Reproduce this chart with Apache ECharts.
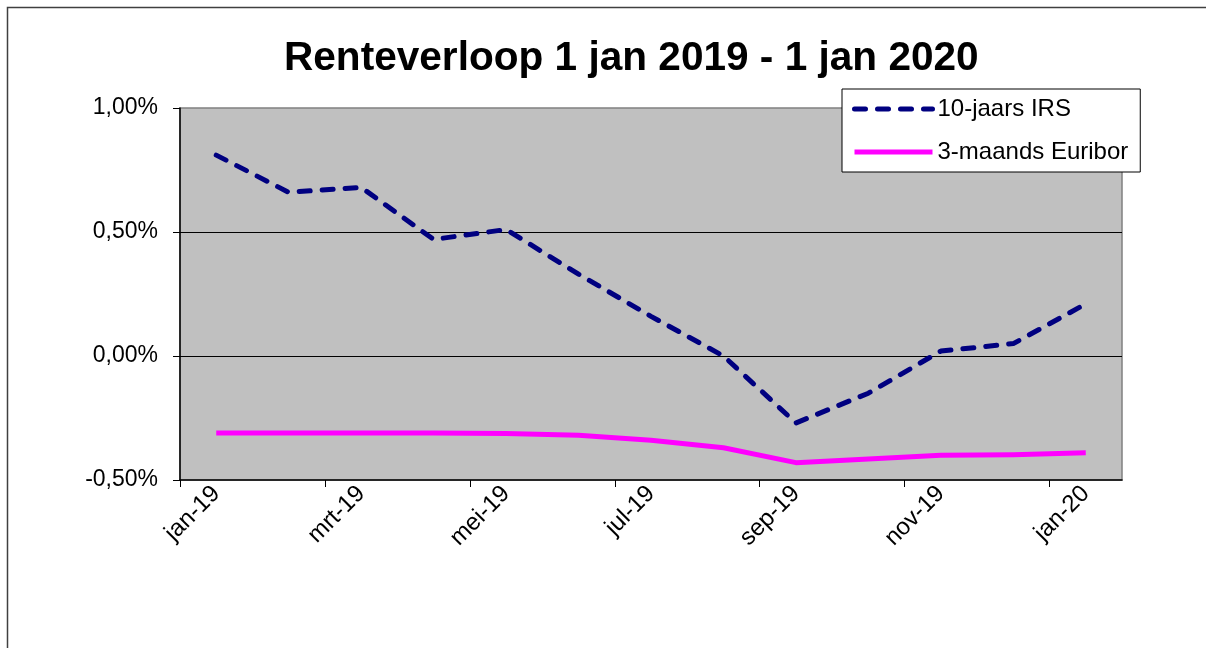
<!DOCTYPE html>
<html>
<head>
<meta charset="utf-8">
<script src="https://cdn.jsdelivr.net/npm/echarts@6/dist/echarts.min.js"></script>
<style>html,body{margin:0;padding:0;background:#fff;}#c{width:1206px;height:648px;}</style>
</head>
<body>
<div id="c"></div>
<script>
var titleText = 'Renteverloop 1 jan 2019 - 1 jan 2020';
var months = ['jan-19','feb-19','mrt-19','apr-19','mei-19','jun-19','jul-19','aug-19','sep-19','okt-19','nov-19','dec-19','jan-20'];
var irsName = '10-jaars IRS';
var euriborName = '3-maands Euribor';
var irs = [0.81, 0.66, 0.68, 0.47, 0.51, 0.33, 0.16, 0.00, -0.27, -0.15, 0.02, 0.05, 0.21];
var euribor = [-0.31, -0.31, -0.31, -0.31, -0.312, -0.32, -0.34, -0.37, -0.43, -0.415, -0.40, -0.398, -0.39];
var yMin = -0.5, yMax = 1.0, yStep = 0.5;

// month slots: data at slot centres, ticks at slot boundaries every 2 months
var labelIdx = [], tickPos = [];
for (var i = 0; i < months.length; i += 2) { labelIdx.push(i); tickPos.push(i - 0.5); }
function pairs(arr) { return arr.map(function (v, k) { return [k, v]; }); }

var FONT = 'Arial, "Liberation Sans", sans-serif';
var irsLine = {color: '#000080', width: 5, type: [11, 12], cap: 'round', join: 'round'};
var eurLine = {color: '#FF00FF', width: 5, join: 'round'};
var chart = echarts.init(document.getElementById('c'));
chart.setOption({
  animation: false,
  backgroundColor: '#ffffff',
  graphic: [{
    type: 'rect', silent: true, z: -10,
    shape: {x: 7.5, y: 7.5, width: 1400, height: 1000},
    style: {fill: 'none', stroke: '#404040', lineWidth: 1.5}
  }],
  title: {
    text: titleText,
    left: 284, top: 38,
    padding: 0,
    textStyle: {fontFamily: FONT, fontSize: 40.6, fontWeight: 'bold', color: '#000'}
  },
  legend: {
    orient: 'vertical',
    left: 842, top: 89,
    padding: [8, 12, 8, 10],
    backgroundColor: '#ffffff',
    borderColor: '#000000',
    borderWidth: 1,
    itemWidth: 78, itemHeight: 22, itemGap: 19,
    itemStyle: {opacity: 0},
    textStyle: {fontFamily: FONT, fontSize: 24, color: '#000'},
    data: [
      {name: irsName, lineStyle: irsLine},
      {name: euriborName, lineStyle: eurLine}
    ]
  },
  grid: {
    left: 180, top: 108, width: 942, height: 372,
    show: true, backgroundColor: '#C0C0C0', borderColor: '#808080', borderWidth: 1.5,
    containLabel: false
  },
  xAxis: {
    type: 'value',
    min: -0.5, max: months.length - 0.5,
    axisLine: {onZero: false, lineStyle: {color: '#000', width: 1.5}},
    axisTick: {show: true, customValues: tickPos, length: 7, lineStyle: {color: '#000'}},
    axisLabel: {
      customValues: labelIdx, rotate: 45, margin: 10, fontFamily: FONT, fontSize: 24, color: '#000',
      formatter: function (v) { return months[Math.round(v)] || ''; }
    },
    splitLine: {show: false}
  },
  yAxis: {
    type: 'value',
    min: yMin, max: yMax, interval: yStep,
    axisLine: {show: true, onZero: false, lineStyle: {color: '#000', width: 1.5}},
    axisTick: {show: true, length: 7, lineStyle: {color: '#000'}},
    axisLabel: {
      margin: 22, fontFamily: FONT, fontSize: 23, color: '#000',
      formatter: function (v) { return v.toFixed(2).replace('.', ',') + '%'; }
    },
    splitLine: {show: true, showMinLine: false, showMaxLine: false, lineStyle: {color: '#000', width: 1}}
  },
  series: [{
    name: irsName,
    type: 'line',
    data: pairs(irs),
    symbol: 'none',
    color: '#000080',
    lineStyle: irsLine
  }, {
    name: euriborName,
    type: 'line',
    data: pairs(euribor),
    symbol: 'none',
    color: '#FF00FF',
    lineStyle: eurLine
  }]
});
</script>
</body>
</html>
